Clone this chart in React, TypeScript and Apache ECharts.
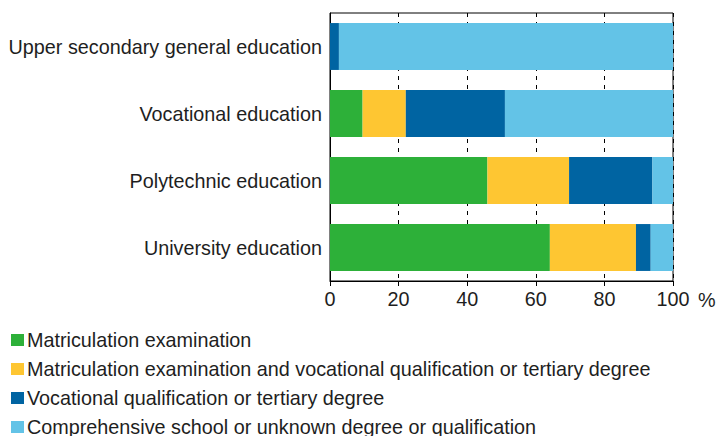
import React, { useEffect, useRef } from "react";
import * as echarts from "echarts";

const categories = [
  "Upper secondary general education",
  "Vocational education",
  "Polytechnic education",
  "University education",
];
const seriesNames = [
  "Matriculation examination",
  "Matriculation examination and vocational qualification or tertiary degree",
  "Vocational qualification or tertiary degree",
  "Comprehensive school or unknown degree or qualification",
];
const matriculation = [0, 9.5, 45.9, 64.1];
const matricAndVocational = [0, 12.6, 23.8, 25.1];
const vocationalOrTertiary = [2.6, 28.9, 24.3, 4.3];
const comprehensive = [97.4, 49.0, 6.0, 6.5];
const xTicks = { min: 0, max: 100, interval: 20 };
const colors = ["#2db039", "#fec632", "#0064a2", "#63c3e7"];

export default function App() {
  const ref = useRef<HTMLDivElement>(null);
  useEffect(() => {
    if (!ref.current) return;
    const chart = echarts.init(ref.current, undefined, { renderer: "svg" });
    const font = "Liberation Sans, Arial, sans-serif";
    const fs = 19.8;
    const txt = "#1e1e1e";
    const values = [matriculation, matricAndVocational, vocationalOrTertiary, comprehensive];
    chart.setOption({
      animation: false,
      textStyle: { fontFamily: font },
      grid: {
        left: 330,
        right: 44,
        top: 13,
        bottom: 155,
        containLabel: false,
        outerBoundsMode: "none",
        show: true,
        borderColor: "#000",
        borderWidth: 1,
        backgroundColor: "transparent",
      },
      legend: {
        orient: "vertical",
        left: 11,
        top: 330,
        height: 150,
        padding: 0,
        itemWidth: 13,
        itemHeight: 12,
        itemGap: 9,
        icon: "rect",
        textStyle: { fontSize: fs, color: txt, fontFamily: font, padding: [0, 0, 0, -2] },
        data: seriesNames,
        selectedMode: false,
      },
      xAxis: {
        type: "value",
        min: xTicks.min,
        max: xTicks.max,
        interval: xTicks.interval,
        name: "%",
        nameLocation: "end",
        nameGap: 25,
        nameTextStyle: {
          fontSize: fs,
          color: txt,
          fontFamily: font,
          verticalAlign: "top",
          padding: [9, 0, 0, 0],
        },
        axisLine: { show: true, lineStyle: { color: "#000", width: 1 } },
        axisTick: { show: true, length: 5, lineStyle: { color: "#000" } },
        axisLabel: { fontSize: fs, color: txt, margin: 8, fontFamily: font },
        splitLine: { show: true, lineStyle: { color: "#000", type: [4, 5], width: 1 } },
      },
      yAxis: {
        type: "category",
        data: categories,
        inverse: true,
        axisLine: { show: true, lineStyle: { color: "#000", width: 1 } },
        axisTick: { show: false },
        axisLabel: { fontSize: fs, color: txt, margin: 8, fontFamily: font },
        splitLine: { show: false },
      },
      series: seriesNames.map((name, i) => ({
        name,
        type: "bar",
        stack: "total",
        barWidth: "70%",
        data: values[i],
        itemStyle: { color: colors[i] },
      })),
    });
    return () => chart.dispose();
  }, []);
  return (
    <div
      ref={ref}
      style={{ position: "fixed", left: 0, top: 0, width: 717, height: 436, background: "#fff" }}
    />
  );
}
